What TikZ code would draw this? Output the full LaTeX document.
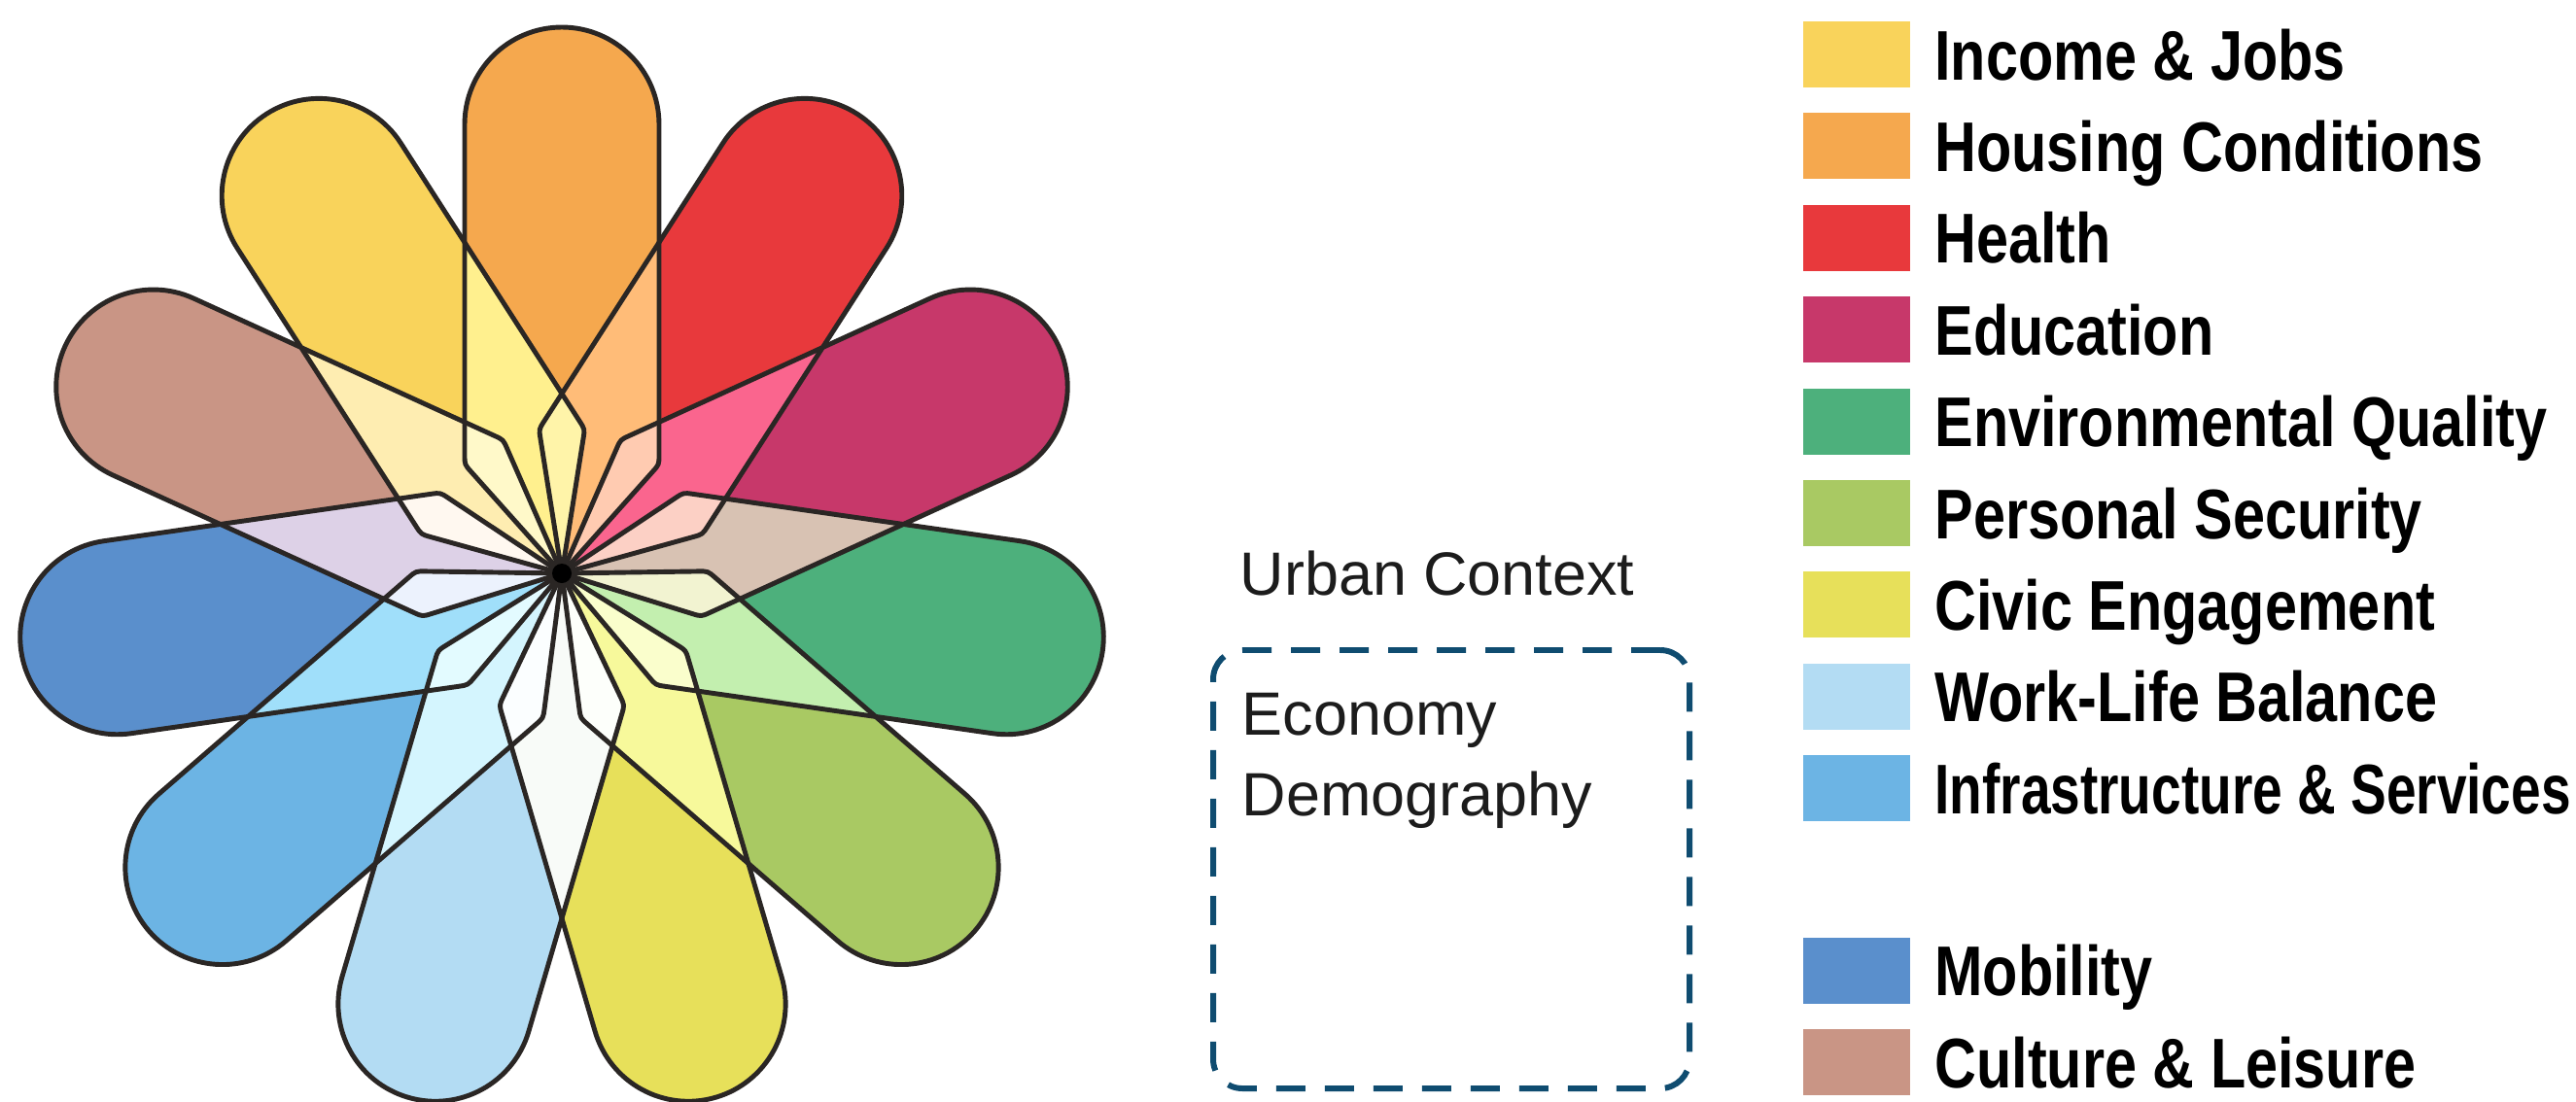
\documentclass[tikz,border=0pt]{standalone}
\usepackage{fontspec}
\setmainfont{Liberation Sans}
\newfontfamily\legendfont[FakeStretch=0.82]{Liberation Sans}
\newfontfamily\narrowfont[FakeStretch=0.76]{Liberation Sans}
\usepackage{xcolor}
\usepackage{tikz}
\usetikzlibrary{positioning}

\definecolor{incomeC}{HTML}{F9D35B}
\definecolor{housingC}{HTML}{F5A84E}
\definecolor{healthC}{HTML}{E8393C}
\definecolor{educationC}{HTML}{C7386A}
\definecolor{environC}{HTML}{4DB07C}
\definecolor{securityC}{HTML}{A9C963}
\definecolor{civicC}{HTML}{E7E05A}
\definecolor{worklifeC}{HTML}{B3DCF3}
\definecolor{infraC}{HTML}{6CB4E4}
\definecolor{mobilityC}{HTML}{5A8FCC}
\definecolor{cultureC}{HTML}{C99585}
\definecolor{edgeC}{HTML}{2A2624}
\definecolor{boxC}{HTML}{0F4C70}
\definecolor{textC}{HTML}{1C1C1C}

\begin{document}
\begin{tikzpicture}[
  petal/.style={insert path={(0,0) -- (1.045,0.933) .. controls (1.12,1) .. (1.22,1) -- (4.62,1)
      arc [start angle=90,end angle=-90,radius=1] -- (1.22,-1) .. controls (1.12,-1) .. (1.045,-0.933) -- cycle}},
  outline/.style={draw=edgeC,line width=1.4pt,line join=round},
  swatch/.style={minimum width=1.1cm,minimum height=0.68cm,inner sep=0},
  item/.style={inner sep=0,text=black,font={\legendfont\bfseries\fontsize{20.6pt}{24pt}\selectfont}},
  ctxtext/.style={inner sep=0,anchor=base west,text=textC,font={\fontsize{17.9pt}{21pt}\selectfont}},
  ctxbox/.style={draw=boxC,line width=1.7pt,dash pattern=on 0.3cm off 0.2cm,rounded corners=0.3cm,
      minimum width=4.9cm,minimum height=4.51cm}
]
\useasboundingbox (0,0) rectangle (26.5,11.33);

% flower
\begin{scope}[shift={(5.78,5.43)}]
\begin{scope}[transparency group={isolated}]
\begin{scope}[blend mode=screen]
\fill [housingC,rotate=90,petal];
\fill [incomeC,rotate=122.73,petal];
\fill [cultureC,rotate=155.45,petal];
\fill [mobilityC,rotate=188.18,petal];
\fill [infraC,rotate=220.91,petal];
\fill [worklifeC,rotate=253.64,petal];
\fill [civicC,rotate=286.36,petal];
\fill [securityC,rotate=319.09,petal];
\fill [environC,rotate=351.82,petal];
\fill [educationC,rotate=24.55,petal];
\fill [healthC,rotate=57.27,petal];
\end{scope}
\end{scope}

\draw [outline,rotate=90,petal];
\draw [outline,rotate=122.73,petal];
\draw [outline,rotate=155.45,petal];
\draw [outline,rotate=188.18,petal];
\draw [outline,rotate=220.91,petal];
\draw [outline,rotate=253.64,petal];
\draw [outline,rotate=286.36,petal];
\draw [outline,rotate=319.09,petal];
\draw [outline,rotate=351.82,petal];
\draw [outline,rotate=24.55,petal];
\draw [outline,rotate=57.27,petal];

\fill [black] (0,0) circle [radius=0.1];
\end{scope}

% urban context
\node [ctxbox] (ctx) at (14.93,2.385) {};
\node [ctxtext] (urban) at ([xshift=0.3cm,yshift=0.54cm]ctx.north west) {Urban Context};
\node [ctxtext] (econ) at ([xshift=0.32cm,yshift=-0.9cm]ctx.north west) {Economy};
\node [ctxtext] (demo) at ([yshift=-0.83cm]econ.base west) {Demography};

% legend
\node [swatch,fill=incomeC] (sqincome) at (19.1,10.77) {};
\node [swatch,fill=housingC,below=0.25cm of sqincome] (sqhousing) {};
\node [swatch,fill=healthC,below=0.25cm of sqhousing] (sqhealth) {};
\node [swatch,fill=educationC,below=0.25cm of sqhealth] (sqeducation) {};
\node [swatch,fill=environC,below=0.25cm of sqeducation] (sqenviron) {};
\node [swatch,fill=securityC,below=0.25cm of sqenviron] (sqsecurity) {};
\node [swatch,fill=civicC,below=0.25cm of sqsecurity] (sqcivic) {};
\node [swatch,fill=worklifeC,below=0.25cm of sqcivic] (sqworklife) {};
\node [swatch,fill=infraC,below=0.25cm of sqworklife] (sqinfra) {};
\node [swatch,fill=mobilityC,below=1.18cm of sqinfra] (sqmobility) {};
\node [swatch,fill=cultureC,below=0.25cm of sqmobility] (sqculture) {};

\node [item,right=0.24cm of sqincome,anchor=base west,yshift=-0.26cm] (lbincome) {Income \& Jobs};
\node [item,right=0.24cm of sqhousing,anchor=base west,yshift=-0.26cm] (lbhousing) {Housing Conditions};
\node [item,right=0.24cm of sqhealth,anchor=base west,yshift=-0.26cm] (lbhealth) {Health};
\node [item,right=0.24cm of sqeducation,anchor=base west,yshift=-0.26cm] (lbeducation) {Education};
\node [item,right=0.24cm of sqenviron,anchor=base west,yshift=-0.26cm] (lbenviron) {Environmental Quality};
\node [item,right=0.24cm of sqsecurity,anchor=base west,yshift=-0.26cm] (lbsecurity) {Personal Security};
\node [item,right=0.24cm of sqcivic,anchor=base west,yshift=-0.26cm] (lbcivic) {Civic Engagement};
\node [item,right=0.24cm of sqworklife,anchor=base west,yshift=-0.26cm] (lbworklife) {Work-Life Balance};
\node [item,right=0.24cm of sqinfra,anchor=base west,yshift=-0.26cm,font={\narrowfont\bfseries\fontsize{20.6pt}{24pt}\selectfont}] (lbinfra) {Infrastructure \& Services};
\node [item,right=0.24cm of sqmobility,anchor=base west,yshift=-0.26cm] (lbmobility) {Mobility};
\node [item,right=0.24cm of sqculture,anchor=base west,yshift=-0.26cm] (lbculture) {Culture \& Leisure};
\end{tikzpicture}
\end{document}
